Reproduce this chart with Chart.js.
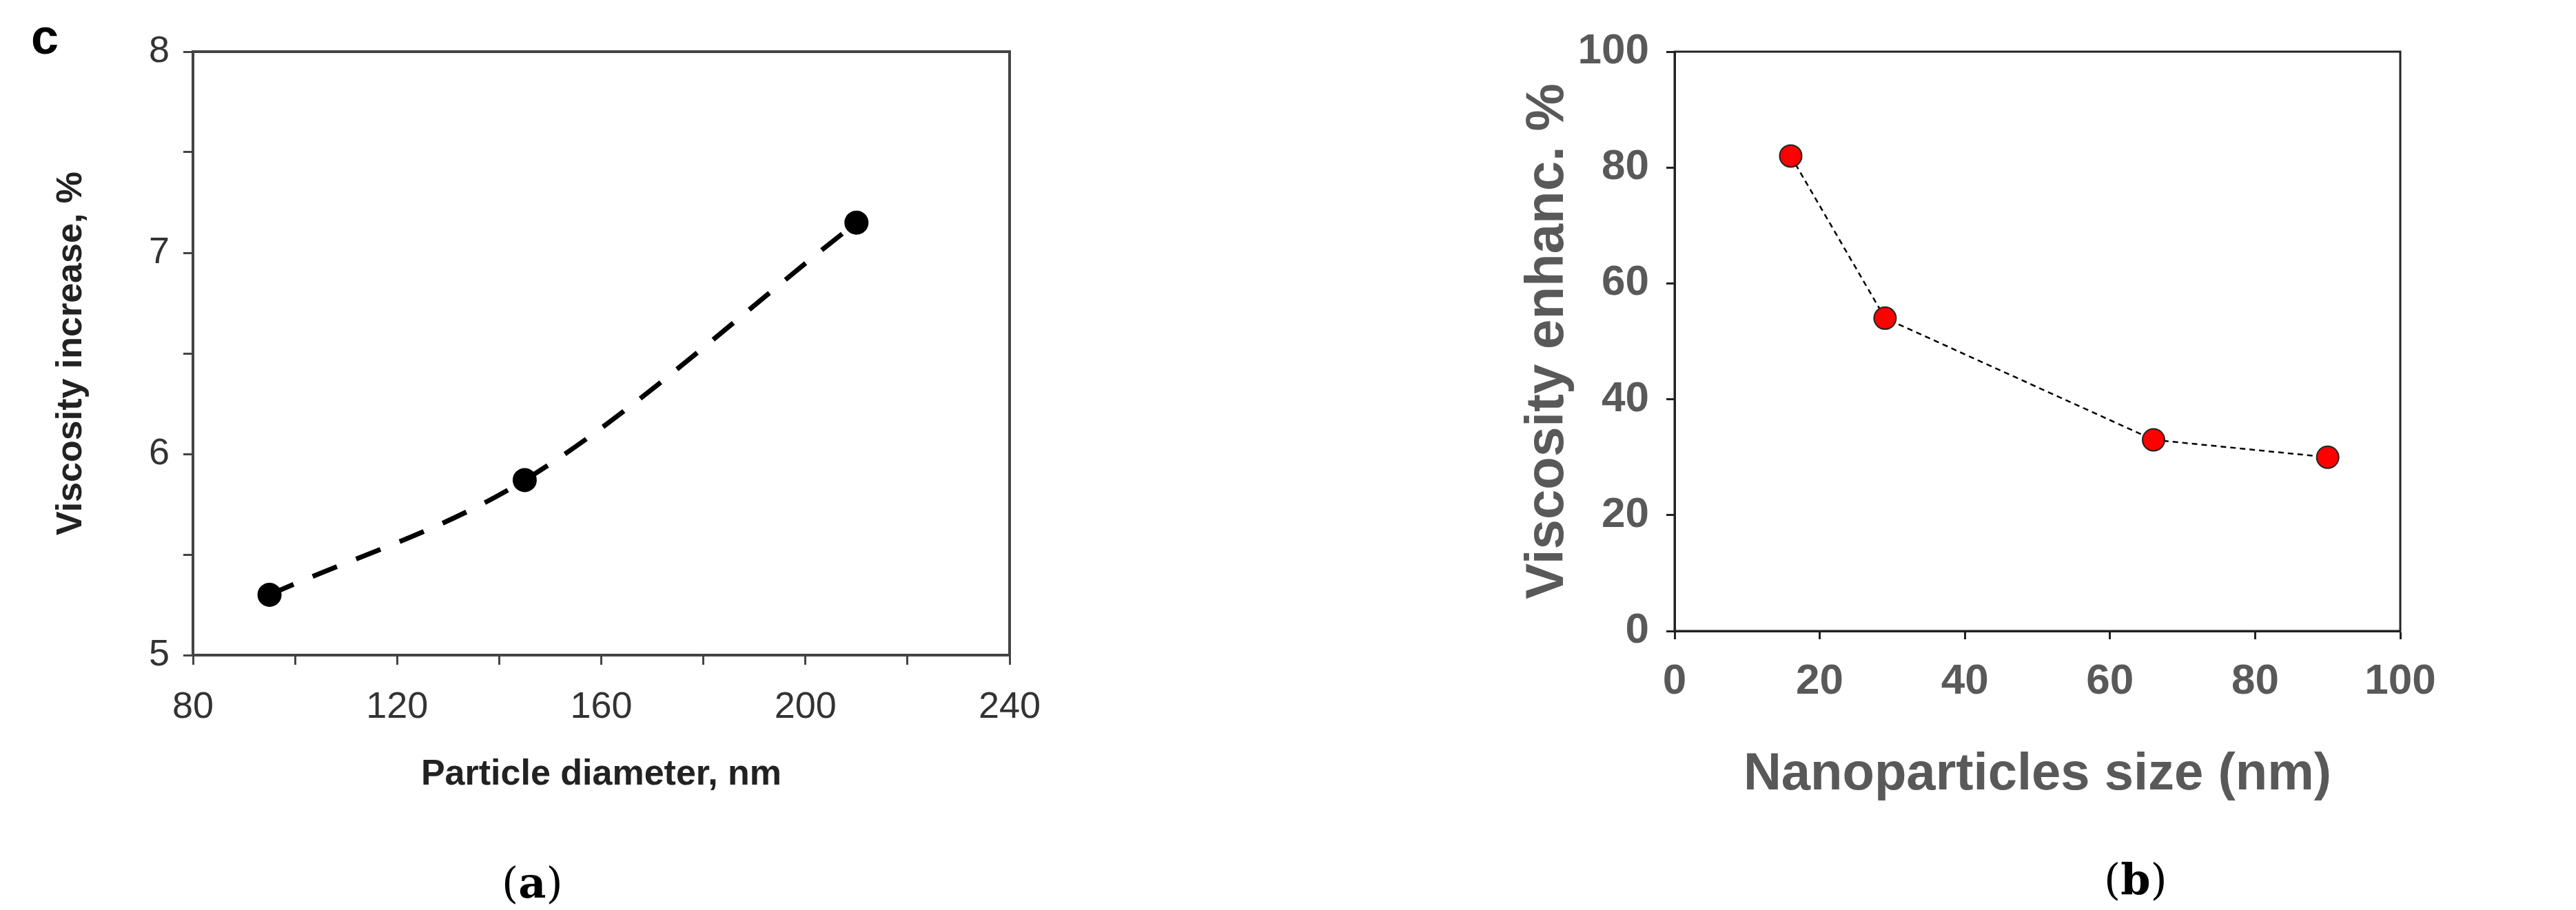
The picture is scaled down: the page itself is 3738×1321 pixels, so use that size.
<!DOCTYPE html>
<html>
<head>
<meta charset="utf-8">
<script src="https://cdn.jsdelivr.net/npm/chart.js@4"></script>
<style>
  body { margin: 0; background: #fff; width: 3738px; height: 1321px; position: relative; overflow: hidden; }
  .box { position: absolute; top: 0; height: 1321px; }
  .lbl { position: absolute; font-family: "DejaVu Serif", "Liberation Serif", serif; font-size: 62px; color: #000; }
  .lbl b { font-weight: bold; }
</style>
</head>
<body>
<div class="box" style="left:0;width:1600px"><canvas id="left"></canvas></div>
<div class="box" style="left:1900px;width:1838px"><canvas id="right"></canvas></div>
<div class="lbl" style="left:45px;top:12px;font-family:'Liberation Sans',sans-serif;font-weight:bold;font-size:72px">c</div>
<div class="lbl" style="left:728px;top:1245px">(<b>a</b>)</div>
<div class="lbl" style="left:3053px;top:1240px">(<b>b</b>)</div>
<script>
// panel (a)
const diamNm = [95, 145, 210]
const viscIncrease = [5.3, 5.87, 7.15]
// panel (b)
const sizeNm = [16, 29, 66, 90]
const viscEnhanc = [82, 54, 33, 30]

const frame = {
    id: "frame",
    afterDraw(chart, args, opts) {
        const a = chart.chartArea, ctx = chart.ctx
        ctx.save()
        ctx.strokeStyle = opts.color
        ctx.lineWidth = opts.width
        ctx.strokeRect(a.left, a.top, a.right - a.left, a.bottom - a.top)
        ctx.restore()
    }
}

Chart.defaults.animation = false

new Chart("left", {
    type: "line",
    data: {
        datasets: [{
            data: diamNm.map((x, i) => ({x: x, y: viscIncrease[i]})),
            borderColor: "#000",
            borderWidth: 7,
            borderDash: [38, 30],
            cubicInterpolationMode: "monotone",
            pointRadius: 14,
            pointBackgroundColor: "#000",
            pointBorderColor: "#000"
        }]
    },
    options: {
        responsive: true,
        maintainAspectRatio: false,
        layout: { padding: { left: 0, top: 75, right: 135, bottom: 150 } },
        plugins: { legend: { display: false }, tooltip: { enabled: false }, frame: { color: "#444", width: 4 } },
        scales: {
            x: {
                type: "linear", min: 80, max: 240,
                afterFit: (s) => { s.height = 220 },
                border: { color: "#444", width: 4 },
                grid: { drawOnChartArea: false, tickLength: 14, tickWidth: 3, color: "#444" },
                ticks: { stepSize: 20, color: "#333", padding: 30,
                    font: { family: "Liberation Sans", size: 54 },
                    callback: (v) => v % 40 === 0 ? v : "" },
                title: { display: true, text: "Particle diameter, nm", color: "#222",
                    font: { family: "Liberation Sans", size: 52, weight: "bold" }, padding: { top: 0, bottom: 15 } }
            },
            y: {
                min: 5, max: 8,
                afterFit: (s) => { s.width = 280 },
                border: { color: "#444", width: 4 },
                grid: { drawOnChartArea: false, tickLength: 14, tickWidth: 3, color: "#444" },
                ticks: { stepSize: 0.5, color: "#333", padding: 20,
                    font: { family: "Liberation Sans", size: 54 },
                    callback: (v) => Number.isInteger(v) ? v : "" },
                title: { display: true, text: "Viscosity increase, %", color: "#222",
                    font: { family: "Liberation Sans", size: 52, weight: "bold" }, padding: { top: 72, bottom: 0 } }
            }
        }
    },
    plugins: [frame]
})

const gfont = "'Liberation Sans Narrow', 'Liberation Sans', sans-serif"
new Chart("right", {
    type: "line",
    data: {
        datasets: [{
            data: sizeNm.map((x, i) => ({x: x, y: viscEnhanc[i]})),
            borderColor: "#000",
            borderWidth: 2.5,
            borderDash: [8, 6],
            pointRadius: 16,
            pointBackgroundColor: "#ff0000",
            pointBorderColor: "#222",
            pointBorderWidth: 2
        }]
    },
    options: {
        responsive: true,
        maintainAspectRatio: false,
        layout: { padding: { left: 0, top: 75, right: 255, bottom: 150 } },
        plugins: { legend: { display: false }, tooltip: { enabled: false }, frame: { color: "#222", width: 3 } },
        scales: {
            x: {
                type: "linear", min: 0, max: 100,
                afterFit: (s) => { s.height = 255 },
                border: { color: "#222", width: 3 },
                grid: { drawOnChartArea: false, tickLength: 12, tickWidth: 3, color: "#222" },
                ticks: { stepSize: 20, color: "#595959", padding: 25,
                    font: { family: gfont, size: 62, weight: "bold" } },
                title: { display: true, text: "Nanoparticles size (nm)", color: "#595959",
                    font: { family: gfont, size: 76, weight: "bold" }, padding: { top: 0, bottom: 0 } }
            },
            y: {
                min: 0, max: 100,
                afterFit: (s) => { s.width = 530 },
                border: { color: "#222", width: 3 },
                grid: { drawOnChartArea: false, tickLength: 12, tickWidth: 3, color: "#222" },
                ticks: { stepSize: 20, color: "#595959", padding: 25,
                    font: { family: gfont, size: 62, weight: "bold" } },
                title: { display: true, text: "Viscosity enhanc. %", color: "#595959",
                    font: { family: gfont, size: 78, weight: "bold" }, padding: { top: 300, bottom: 0 } }
            }
        }
    },
    plugins: [frame]
})
</script>
</body>
</html>
